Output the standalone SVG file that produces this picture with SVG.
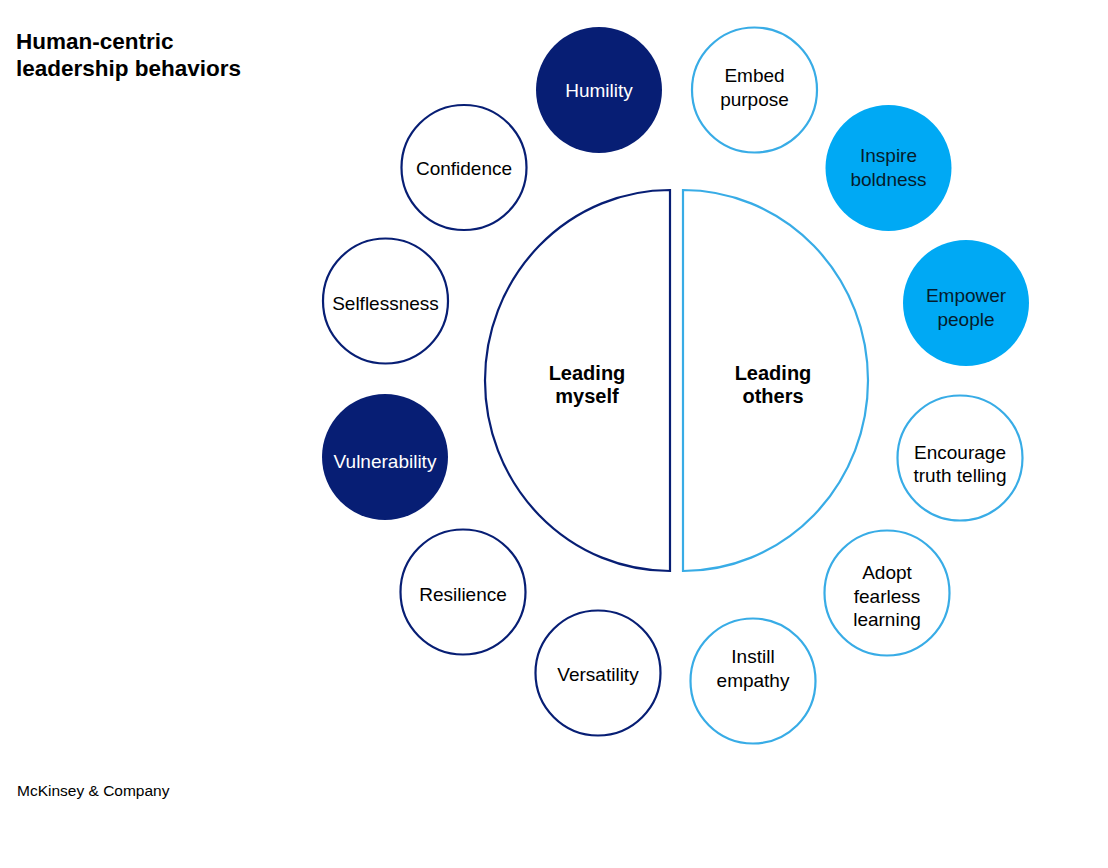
<svg xmlns="http://www.w3.org/2000/svg" width="1108" height="868" viewBox="0 0 1108 868">
<style>
  text { font-family: "Liberation Sans", Arial, sans-serif; text-anchor: middle; }
  .lbl { font-size: 19px; fill: #000; }
  .lblw { font-size: 19px; fill: #fff; }
  .lbld { font-size: 19px; fill: #051C2C; }
  .big { font-size: 20px; font-weight: bold; fill: #000; }
  .navyfill { fill: #071E74; }
  .navyring { fill: #fff; stroke: #071E74; stroke-width: 2.2; }
  .cyanfill { fill: #00A9F4; }
  .cyanring { fill: #fff; stroke: #38ACE6; stroke-width: 2.2; }
</style>
<rect width="1108" height="868" fill="#fff"/>

<g id="title">
  <text x="16" y="49" style="font-size:22.5px;font-weight:bold;text-anchor:start;fill:#000">Human-centric</text>
  <text x="16" y="76" style="font-size:22.5px;font-weight:bold;text-anchor:start;fill:#000">leadership behaviors</text>
</g>

<g id="leading-myself">
  <path d="M 670 190 L 670 571 A 185 190.5 0 0 1 670 190 Z" fill="#fff" stroke="#071E74" stroke-width="2.2"/>
  <text class="big" x="587" y="380">Leading</text>
  <text class="big" x="587" y="403">myself</text>
</g>

<g id="leading-others">
  <path d="M 683 190 A 185 190.5 0 0 1 683 571 Z" fill="#fff" stroke="#38ACE6" stroke-width="2.2"/>
  <text class="big" x="773" y="380">Leading</text>
  <text class="big" x="773" y="403">others</text>
</g>

<g id="humility">
  <circle class="navyfill" cx="599" cy="90" r="63"/>
  <text class="lblw" x="599" y="97">Humility</text>
</g>
<g id="confidence">
  <circle class="navyring" cx="464" cy="167.5" r="62.5"/>
  <text class="lbl" x="464" y="174.5">Confidence</text>
</g>
<g id="selflessness">
  <circle class="navyring" cx="385.5" cy="301" r="62.5"/>
  <text class="lbl" x="385.5" y="310">Selflessness</text>
</g>
<g id="vulnerability">
  <circle class="navyfill" cx="385" cy="457" r="63"/>
  <text class="lblw" x="385" y="468">Vulnerability</text>
</g>
<g id="resilience">
  <circle class="navyring" cx="463" cy="592" r="62.5"/>
  <text class="lbl" x="463" y="601">Resilience</text>
</g>
<g id="versatility">
  <circle class="navyring" cx="598" cy="673" r="62.5"/>
  <text class="lbl" x="598" y="681">Versatility</text>
</g>

<g id="embed-purpose">
  <circle class="cyanring" cx="754.5" cy="90" r="62.5"/>
  <text class="lbl" x="754.5" y="82">Embed</text>
  <text class="lbl" x="754.5" y="106">purpose</text>
</g>
<g id="inspire-boldness">
  <circle class="cyanfill" cx="888.5" cy="168" r="63"/>
  <text class="lbld" x="888.5" y="162">Inspire</text>
  <text class="lbld" x="888.5" y="186">boldness</text>
</g>
<g id="empower-people">
  <circle class="cyanfill" cx="966" cy="303" r="63"/>
  <text class="lbld" x="966" y="302">Empower</text>
  <text class="lbld" x="966" y="326">people</text>
</g>
<g id="encourage-truth-telling">
  <circle class="cyanring" cx="960" cy="458" r="62.5"/>
  <text class="lbl" x="960" y="459">Encourage</text>
  <text class="lbl" x="960" y="482">truth telling</text>
</g>
<g id="adopt-fearless-learning">
  <circle class="cyanring" cx="887" cy="593" r="62.5"/>
  <text class="lbl" x="887" y="579">Adopt</text>
  <text class="lbl" x="887" y="603">fearless</text>
  <text class="lbl" x="887" y="626">learning</text>
</g>
<g id="instill-empathy">
  <circle class="cyanring" cx="753" cy="681" r="62.5"/>
  <text class="lbl" x="753" y="663">Instill</text>
  <text class="lbl" x="753" y="687">empathy</text>
</g>

<g id="connectors"></g>

<g id="footer">
  <text x="17" y="796" style="font-size:15.5px;text-anchor:start;fill:#000">McKinsey &amp; Company</text>
</g>
</svg>
